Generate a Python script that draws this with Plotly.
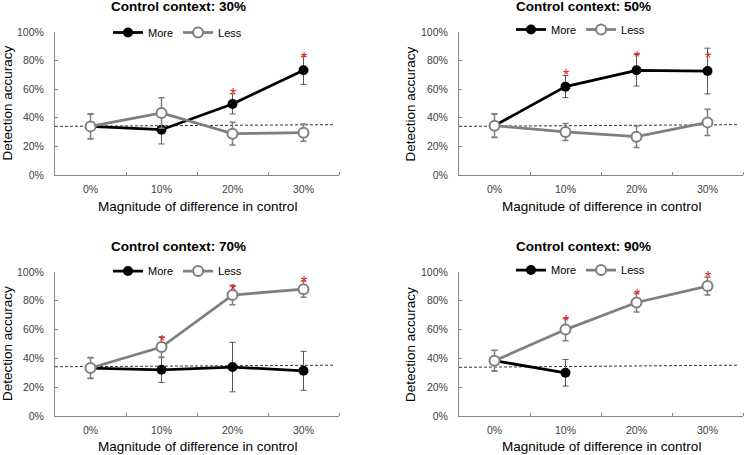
import plotly.graph_objects as go

# ---------------- data ----------------
categories = ["0%", "10%", "20%", "30%"]
contexts = ["30%", "50%", "70%", "90%"]

more_30 = [34.0, 31.7, 49.7, 73.2]
more_30_err = [8.5, 10.0, 7.0, 9.8]
less_30 = [34.0, 43.4, 28.9, 29.6]
less_30_err = [8.9, 10.7, 8.0, 6.0]
stars_30_x = ["20%", "30%"]
stars_30_y = [59.0, 84.4]
chance_30 = [34.0, 35.2]

more_50 = [34.5, 61.8, 73.2, 72.7]
more_50_err = [8.0, 7.7, 11.0, 16.0]
less_50 = [34.5, 30.1, 26.8, 36.8]
less_50_err = [8.3, 5.9, 7.5, 9.2]
stars_50_x = ["10%", "20%", "30%"]
stars_50_y = [72.3, 85.1, 84.6]
chance_50 = [34.0, 35.2]

more_70 = [33.3, 32.1, 34.0, 31.4]
more_70_err = [7.0, 8.8, 17.2, 13.5]
less_70 = [33.3, 47.9, 84.0, 88.1]
less_70_err = [7.3, 7.2, 6.8, 5.6]
stars_70_x = ["10%", "20%", "30%"]
stars_70_y = [54.2, 90.2, 95.6]
chance_70 = [34.2, 35.3]

more_90 = [38.4, 30.0, None, None]
more_90_err = [7.0, 9.2, 0, 0]
less_90 = [38.4, 60.0, 78.8, 90.2]
less_90_err = [7.3, 7.7, 6.5, 6.1]
stars_90_x = ["10%", "20%", "30%"]
stars_90_y = [68.6, 86.7, 98.8]
chance_90 = [33.8, 35.3]

y_ticks = [0, 20, 40, 60, 80, 100]
y_tick_labels = ["0%", "20%", "40%", "60%", "80%", "100%"]

panels = [
    (more_30, more_30_err, less_30, less_30_err, stars_30_x, stars_30_y, chance_30),
    (more_50, more_50_err, less_50, less_50_err, stars_50_x, stars_50_y, chance_50),
    (more_70, more_70_err, less_70, less_70_err, stars_70_x, stars_70_y, chance_70),
    (more_90, more_90_err, less_90, less_90_err, stars_90_x, stars_90_y, chance_90),
]

# ---------------- layout geometry ----------------
W, H = 744, 455
FONT = "Arial, Liberation Sans, sans-serif"
x_domains = [[55 / W, 339 / W], [459 / W, 743 / W]] * 2
y_domains = [[1 - 175 / H, 1 - 32 / H]] * 2 + [[1 - 416 / H, 1 - 272 / H]] * 2
title_pos = [(178, 7), (583, 7), (178, 247), (583, 247)]
xtitle_pos = [(197, 207), (601, 207), (197, 446), (601, 446)]
ytitle_pos = [(7, 103.5), (410, 103.5), (7, 344), (410, 344)]
legend_pos = [(177.5, 32.5), (580.5, 29.5), (177.5, 271), (580.5, 270)]

GRAY = "#7f7f7f"
AXIS = "#868686"
TICKTXT = "#404040"

fig = go.Figure()
annotations = []
cat_idx = {c: i for i, c in enumerate(categories)}
xs = list(range(len(categories)))

for i, (more, more_err, less, less_err, sx, sy, chance) in enumerate(panels):
    n = i + 1
    xa = "x" if n == 1 else f"x{n}"
    ya = "y" if n == 1 else f"y{n}"
    lg = "legend" if n == 1 else f"legend{n}"

    # chance line (dashed)
    fig.add_trace(go.Scatter(
        x=[-0.5, 3.42], y=chance, mode="lines", xaxis=xa, yaxis=ya,
        line=dict(color="#333333", width=1, dash="3px,2px"),
        showlegend=False, hoverinfo="skip"))

    fig.add_trace(go.Scatter(
        x=xs, y=more, name="More", mode="lines+markers", xaxis=xa, yaxis=ya,
        legend=lg, connectgaps=False,
        line=dict(color="#000000", width=2.75),
        marker=dict(size=10, color="#000000", line=dict(width=0)),
        error_y=dict(type="data", array=more_err, color="#595959",
                     thickness=1, width=3)))
    fig.add_trace(go.Scatter(
        x=xs, y=less, name="Less", mode="lines+markers", xaxis=xa, yaxis=ya,
        legend=lg,
        line=dict(color=GRAY, width=2.75),
        marker=dict(size=10, color="#ffffff", line=dict(width=2, color=GRAY)),
        error_y=dict(type="data", array=less_err, color=GRAY,
                     thickness=1.5, width=3)))

    for cx, cy in zip(sx, sy):
        annotations.append(dict(
            x=cat_idx[cx], y=cy, xref=xa, yref=ya, text="*", showarrow=False,
            font=dict(family=FONT, size=16, color="#e8141b"), yshift=-4))

    common_axis = dict(showline=True, linecolor=AXIS, linewidth=1,
                       showgrid=False, zeroline=False, automargin=False,
                       tickfont=dict(family=FONT, size=10.5, color=TICKTXT))
    fig.layout[f"xaxis{'' if n == 1 else n}"] = dict(
        domain=x_domains[i], anchor=ya, range=[-0.5, 3.5],
        tickmode="array", tickvals=xs, ticktext=categories, ticks="",
        ticklabelstandoff=4,
        minor=dict(tickvals=[0.5, 1.5, 2.5, 3.5], ticks="inside",
                   ticklen=3, tickcolor=AXIS, tickwidth=1),
        fixedrange=True, **common_axis)
    fig.layout[f"yaxis{'' if n == 1 else n}"] = dict(
        domain=y_domains[i], anchor=xa, range=[0, 100],
        tickmode="array", tickvals=y_ticks, ticktext=y_tick_labels,
        ticks="inside", ticklen=3, tickcolor=AXIS,
        ticklabelstandoff=8, fixedrange=True, **common_axis)

    tx, ty = title_pos[i]
    annotations.append(dict(
        x=tx / W, y=1 - ty / H, xref="paper", yref="paper",
        text=f"<b>Control context: {contexts[i]}</b>", showarrow=False,
        xanchor="center", yanchor="middle",
        font=dict(family=FONT, size=13.5, color="#000000")))
    tx, ty = xtitle_pos[i]
    annotations.append(dict(
        x=tx / W, y=1 - ty / H, xref="paper", yref="paper",
        text="Magnitude of difference in control", showarrow=False,
        xanchor="center", yanchor="middle",
        font=dict(family=FONT, size=13.5, color="#000000")))
    tx, ty = ytitle_pos[i]
    annotations.append(dict(
        x=tx / W, y=1 - ty / H, xref="paper", yref="paper",
        text="Detection accuracy", showarrow=False, textangle=-90,
        xanchor="center", yanchor="middle",
        font=dict(family=FONT, size=13.5, color="#000000")))

    lx, ly = legend_pos[i]
    fig.layout[lg] = dict(
        x=lx / W, y=1 - ly / H, xanchor="center", yanchor="middle",
        orientation="h", bgcolor="rgba(0,0,0,0)", borderwidth=0,
        itemwidth=30, tracegroupgap=0, traceorder="normal",
        font=dict(family=FONT, size=11, color="#000000"))

fig.update_layout(
    template="none",
    width=W, height=H,
    margin=dict(l=0, r=0, t=0, b=0, pad=0, autoexpand=False),
    paper_bgcolor="#ffffff", plot_bgcolor="#ffffff",
    annotations=annotations, hovermode=False)

fig.write_html(
    "out.html",
    config={"displayModeBar": False, "staticPlot": True},
    post_script="document.body.style.margin='0px';document.body.style.padding='0px';",
)
